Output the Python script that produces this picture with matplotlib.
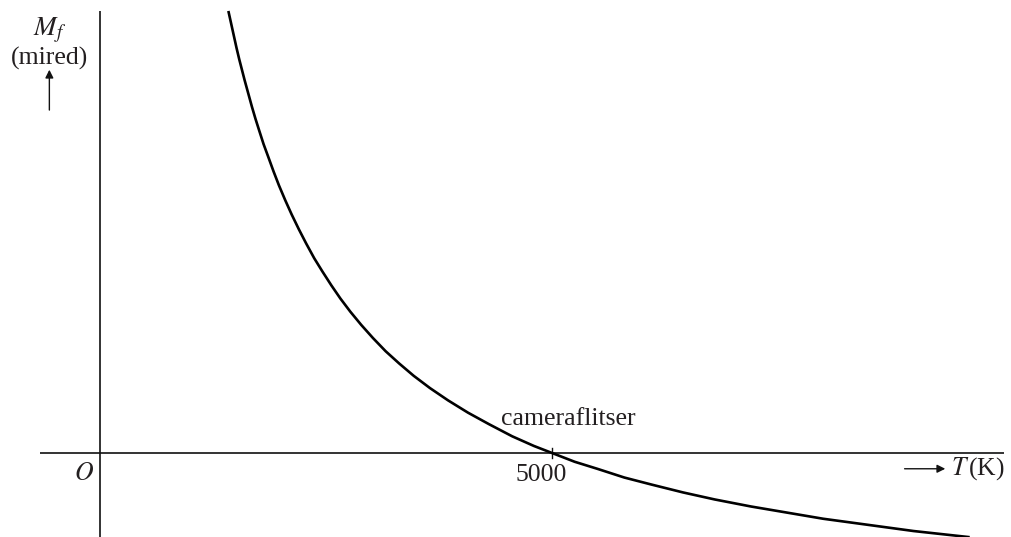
import matplotlib
matplotlib.use("Agg")
import matplotlib.pyplot as plt

# values (T in K, mired shift)
temp_K = [1420, 1450, 1480, 1510, 1540, 1570, 1600, 1640, 1680, 1720, 1760, 1810,
          1860, 1920, 1980, 2050, 2120, 2200, 2280, 2370, 2460, 2560, 2660, 2770,
          2890, 3020, 3160, 3310, 3470, 3650, 3850, 4070, 4300, 4560, 4800, 5000,
          5250, 5500, 5800, 6100, 6450, 6800, 7200, 7600, 8000, 8500, 9000, 9620]
mired = [504, 490, 476, 462, 449, 437, 425, 410, 395, 381, 368, 352,
         338, 321, 305, 288, 272, 255, 239, 222, 207, 191, 176, 161,
         146, 131, 116, 102, 88, 74, 60, 46, 33, 19, 8, 0,
         -10, -18, -28, -36, -45, -53, -61, -68, -75, -82, -89, -96]
tick_T = 5000
tick_label = "5000"
curve_label = "cameraflitser"

ink = "#111111"
txt = "#231f20"

plt.rcParams['font.family'] = ['Liberation Serif', 'DejaVu Serif']
plt.rcParams['mathtext.fontset'] = 'stix'

fig = plt.figure(figsize=(10.11, 5.37), dpi=100)
ax = fig.add_axes([0, 0, 1, 1])
ax.set_xlim(-1106, 10077)
ax.set_ylim(-95.8, 516.5)
ax.axis("off")

# axes lines
ax.plot([-663, 10000], [0, 0], color=ink, lw=1.2, solid_capstyle="butt")
ax.plot([0, 0], [504, -96], color=ink, lw=1.2, solid_capstyle="butt")
ax.plot([tick_T, tick_T], [6, -6], color=ink, lw=1.0)

# curve
ax.plot(temp_K, mired, color="black", lw=1.9, solid_capstyle="butt",
        solid_joinstyle="round")

fs = 18.5
ax.text(5177, 32, curve_label, fontsize=fs, color=txt, ha="center", va="baseline")
ax.text(tick_T - 120, -13, tick_label, fontsize=fs, color=txt, ha="center", va="top")
ax.text(-70, -11, "$O$", fontsize=fs, color=txt, ha="right", va="top")

# y label
ax.text(-560, 482, "$M_f$", fontsize=fs + 1, color=txt, ha="center", va="center")
ax.text(-560, 450, "(mired)", fontsize=fs, color=txt, ha="center", va="center")
ax.annotate("", xy=(-560, 437), xytext=(-560, 391),
            arrowprops=dict(arrowstyle="-|>", lw=1.0, color=ink,
                            mutation_scale=12, shrinkA=0, shrinkB=0))

# x label
ax.annotate("", xy=(9350, -18), xytext=(8900, -18),
            arrowprops=dict(arrowstyle="-|>", lw=1.0, color=ink,
                            mutation_scale=12, shrinkA=0, shrinkB=0))
ax.text(9410, -18, "$T\\,$(K)", fontsize=fs, color=txt, ha="left", va="center")

fig.savefig("out.png", dpi=100)
